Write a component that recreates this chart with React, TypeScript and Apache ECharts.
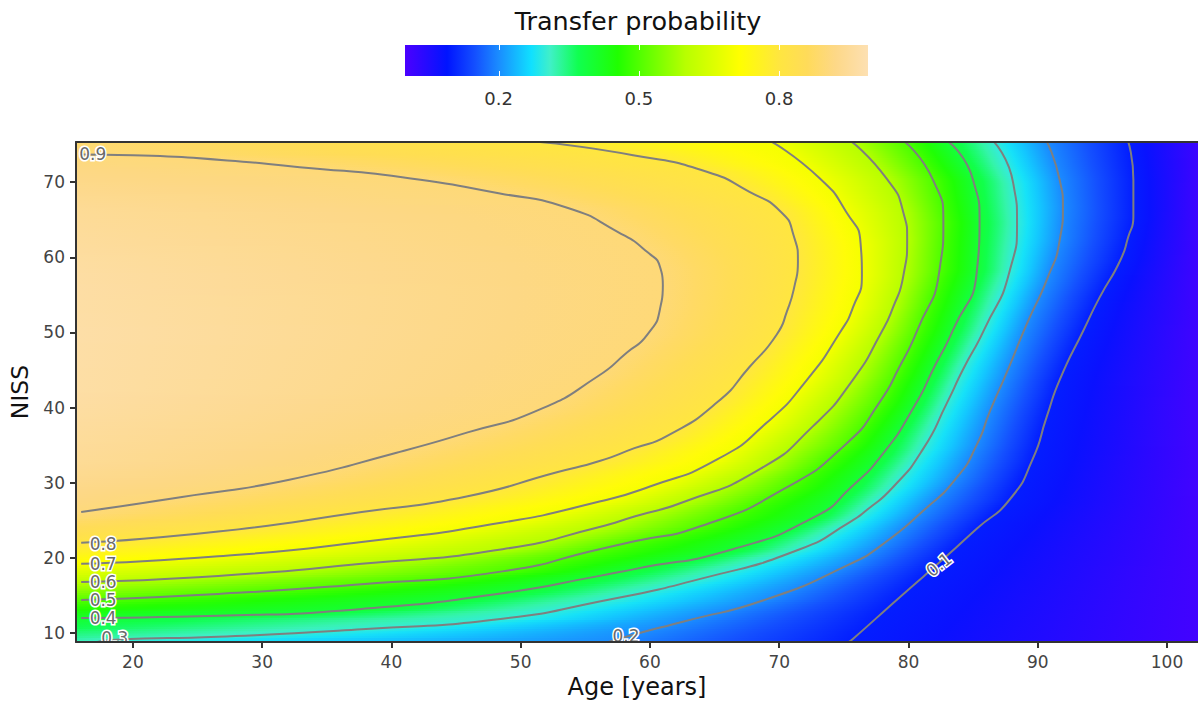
import React, { useEffect, useRef } from "react";
import * as echarts from "echarts";

const FONT = '"DejaVu Sans", Verdana, sans-serif';

// Axis ranges and ticks
const AGE_MIN = 15.6;
const AGE_MAX = 102.4;
const NISS_MIN = 8.8;
const NISS_MAX = 75.35;
const AGE_TICKS = [20, 30, 40, 50, 60, 70, 80, 90, 100];
const NISS_TICKS = [10, 20, 30, 40, 50, 60, 70];

// Colour bar
const COLORBAR_MIN = 0;
const COLORBAR_MAX = 0.99;
const COLORBAR_TICKS = [0.2, 0.5, 0.8];
const COLOR_SCALE: [number, string][] = [
  [0.0, "#4b00ff"],
  [0.09, "#0014ff"],
  [0.15, "#1450ff"],
  [0.2, "#1a8cff"],
  [0.27, "#10e0ff"],
  [0.31, "#40f0c8"],
  [0.37, "#10ff50"],
  [0.455, "#20ff00"],
  [0.5, "#50ff00"],
  [0.6, "#b8ff00"],
  [0.715, "#ffff00"],
  [0.8, "#ffe640"],
  [0.86, "#ffdb5a"],
  [0.92, "#fdd887"],
  [0.99, "#fde0b2"],
];

// Contour lines: [age, NISS]
const CONTOUR_09 = [[16.0, 73.7], [20.0, 73.6], [27.3, 72.9], [32.9, 72.0], [40.7, 70.7], [48.4, 68.5], [53.6, 66.6], [57.5, 63.4], [59.8, 60.7], [60.8, 58.6], [61.0, 56.3], [60.8, 53.3], [59.8, 49.7], [58.2, 47.3], [56.0, 44.2], [51.4, 39.7], [45.9, 36.7], [40.4, 34.0], [32.1, 30.4], [23.8, 28.1], [16.0, 26.1]];
const CONTOUR_08 = [[51.1, 75.4], [58.7, 73.6], [64.4, 71.4], [67.7, 68.7], [70.1, 66.1], [71.1, 63.0], [71.45, 59.4], [71.2, 56.3], [70.6, 52.8], [69.8, 49.7], [67.7, 45.4], [65.2, 40.7], [61.3, 36.2], [58.8, 34.6], [56.1, 32.9], [52.8, 31.4], [45.9, 28.2], [37.7, 26.1], [26.6, 23.5], [16.0, 22.0]];
const CONTOUR_07 = [[69.4, 75.4], [73.15, 70.5], [75.2, 66.0], [76.3, 61.8], [76.4, 57.7], [75.7, 53.3], [74.7, 50.0], [72.15, 43.7], [69.05, 38.0], [65.2, 33.1], [60.0, 29.5], [56.1, 27.5], [48.6, 24.7], [37.7, 22.1], [26.6, 20.2], [16.0, 19.2]];
const CONTOUR_06 = [[75.6, 75.4], [78.3, 70.5], [79.6, 66.0], [79.9, 62.5], [79.6, 57.5], [78.8, 53.3], [77.9, 50.0], [75.7, 43.7], [72.6, 37.5], [68.5, 31.8], [62.55, 27.4], [58.8, 25.5], [56.1, 24.1], [48.6, 21.15], [37.7, 19.2], [26.6, 17.6], [16.0, 16.8]];
const CONTOUR_05 = [[79.7, 75.4], [81.9, 70.3], [82.7, 64.6], [82.4, 58.3], [80.7, 50.35], [79.3, 45.4], [77.8, 40.8], [75.2, 35.2], [70.3, 29.1], [63.9, 24.2], [58.8, 22.2], [56.1, 21.15], [48.6, 18.2], [37.7, 16.5], [26.6, 15.2], [16.0, 14.4]];
const CONTOUR_04 = [[83.1, 75.4], [85.0, 70.3], [85.5, 64.6], [85.3, 58.3], [83.45, 50.35], [82.0, 45.4], [80.5, 40.3], [78.0, 33.8], [75.5, 29.3], [72.9, 25.6], [66.4, 21.15], [58.8, 18.5], [56.1, 17.6], [48.6, 15.3], [37.7, 13.2], [26.6, 12.3], [16.0, 12.0]];
const CONTOUR_03 = [[86.6, 75.4], [88.1, 69.9], [88.4, 64.6], [87.85, 58.3], [85.85, 50.35], [84.2, 45.0], [83.0, 40.7], [81.1, 34.4], [78.8, 29.4], [76.8, 26.4], [75.5, 24.8], [71.6, 21.15], [63.9, 17.2], [56.1, 14.2], [48.6, 11.9], [37.7, 10.5], [26.6, 9.5], [18.6, 9.1], [17.0, 8.7]];
const CONTOUR_02 = [[90.7, 75.4], [91.7, 70.3], [91.95, 66.7], [91.7, 62.3], [90.7, 57.0], [89.2, 51.3], [87.6, 44.65], [86.3, 39.5], [85.3, 35.1], [83.75, 30.7], [81.1, 26.2], [78.0, 21.8], [75.5, 19.2], [69.05, 14.5], [62.55, 11.5], [59.0, 9.9], [56.6, 8.7]];
const CONTOUR_01 = [[97.0, 75.4], [97.4, 70.3], [97.4, 65.4], [97.0, 62.7], [96.4, 59.65], [94.8, 54.7], [93.6, 50.5], [91.7, 43.7], [90.7, 38.8], [89.6, 33.1], [87.85, 27.8], [85.3, 23.9], [83.0, 20.3], [79.35, 14.8], [75.7, 9.2], [75.3, 8.7]];

const CONTOURS = [
  { level: 0.9, points: CONTOUR_09 },
  { level: 0.8, points: CONTOUR_08 },
  { level: 0.7, points: CONTOUR_07 },
  { level: 0.6, points: CONTOUR_06 },
  { level: 0.5, points: CONTOUR_05 },
  { level: 0.4, points: CONTOUR_04 },
  { level: 0.3, points: CONTOUR_03 },
  { level: 0.2, points: CONTOUR_02 },
  { level: 0.1, points: CONTOUR_01 },
];

// Probability read along the left (age 15.6) and right (age 102.4) edges: [NISS, p]
const LEFT_EDGE = [[8.7, 0.31], [12.0, 0.405], [14.4, 0.505], [16.8, 0.605], [19.2, 0.705], [22.0, 0.805], [26.1, 0.905], [33, 0.945], [42, 0.968], [50, 0.972], [58, 0.965], [66, 0.945], [73.7, 0.905], [75.4, 0.892]];
const RIGHT_EDGE = [[8.7, 0.01], [40, 0.012], [75.4, 0.018]];

// Contour labels: text, age, NISS, angle (deg)
const LABEL_TEXT = ["0.9", "0.8", "0.7", "0.6", "0.5", "0.4", "0.3", "0.2", "0.1"];
const LABEL_AGE = [16.9, 17.7, 17.7, 17.7, 17.7, 17.7, 18.6, 58.15, 82.36];
const LABEL_NISS = [73.7, 21.9, 19.15, 16.8, 14.4, 11.95, 9.35, 9.6, 19.1];
const LABEL_ANGLE = [0, 0, 0, 0, 0, 0, 0, 0, 38];

const RASTER_STEP = 0.3;

function hexToRgb(h: string) {
  const v = parseInt(h.slice(1), 16);
  return [(v >> 16) & 255, (v >> 8) & 255, v & 255];
}
const SCALE_RGB = COLOR_SCALE.map(([v, c]) => [v, hexToRgb(c)] as [number, number[]]);

function colorAt(v: number) {
  if (v <= SCALE_RGB[0][0]) v = SCALE_RGB[0][0];
  const last = SCALE_RGB[SCALE_RGB.length - 1];
  if (v >= last[0]) {
    const c = last[1];
    return `rgb(${c[0]},${c[1]},${c[2]})`;
  }
  for (let i = 0; i < SCALE_RGB.length - 1; i++) {
    const [v1, c1] = SCALE_RGB[i];
    const [v2, c2] = SCALE_RGB[i + 1];
    if (v >= v1 && v <= v2) {
      const t = (v - v1) / (v2 - v1);
      const c = c1.map((x, k) => Math.round(x + (c2[k] - x) * t));
      return `rgb(${c[0]},${c[1]},${c[2]})`;
    }
  }
  return "#000";
}

function profileAt(p: number[][], n: number) {
  if (n <= p[0][0]) return p[0][1];
  for (let i = 0; i < p.length - 1; i++) {
    if (n >= p[i][0] && n <= p[i + 1][0]) {
      const t = (n - p[i][0]) / (p[i + 1][0] - p[i][0]);
      return p[i][1] + (p[i + 1][1] - p[i][1]) * t;
    }
  }
  return p[p.length - 1][1];
}

function crossAge(pts: number[][], n: number): number | null {
  for (let i = 0; i < pts.length - 1; i++) {
    const [a1, n1] = pts[i];
    const [a2, n2] = pts[i + 1];
    if ((n <= n1 && n >= n2) || (n >= n1 && n <= n2)) {
      if (n1 === n2) return a1;
      return a1 + ((n - n1) / (n2 - n1)) * (a2 - a1);
    }
  }
  return null;
}

function stripStops(n: number) {
  const pts: [number, number][] = [[AGE_MIN, profileAt(LEFT_EDGE, n)]];
  CONTOURS.forEach((c) => {
    const a = crossAge(c.points, n);
    if (a !== null) pts.push([Math.max(AGE_MIN, Math.min(AGE_MAX, a)), c.level]);
  });
  pts.push([AGE_MAX, profileAt(RIGHT_EDGE, n)]);
  pts.sort((p, q) => p[0] - q[0]);
  const span = AGE_MAX - AGE_MIN;
  const stops: { offset: number; color: string }[] = [];
  for (let i = 0; i < pts.length; i++) {
    const [a1, v1] = pts[i];
    if (i < pts.length - 1) {
      const [a2, v2] = pts[i + 1];
      for (let k = 0; k < 4; k++) {
        const t = k / 4;
        stops.push({ offset: (a1 + (a2 - a1) * t - AGE_MIN) / span, color: colorAt(v1 + (v2 - v1) * t) });
      }
    } else {
      stops.push({ offset: 1, color: colorAt(v1) });
    }
  }
  return stops;
}

function buildOption() {
  const rows: number[][] = [];
  for (let n = NISS_MIN - RASTER_STEP; n < NISS_MAX + RASTER_STEP; n += RASTER_STEP) {
    rows.push([AGE_MIN, n, n + RASTER_STEP]);
  }

  const axisLineStyle = { color: "#333", width: 2 };

  const barX = 405;
  const barW = 463;
  const barY = 45;
  const barH = 31;
  const toBarX = (v: number) => barX + ((v - COLORBAR_MIN) / (COLORBAR_MAX - COLORBAR_MIN)) * barW;

  const graphic: any[] = [
    {
      type: "text",
      x: 638,
      y: 21,
      style: { text: "Transfer probability", font: `25.5px ${FONT}`, fill: "#111", align: "center", verticalAlign: "middle" },
    },
    {
      type: "rect",
      shape: { x: barX, y: barY, width: barW, height: barH },
      style: {
        fill: {
          type: "linear", x: 0, y: 0, x2: 1, y2: 0,
          colorStops: COLOR_SCALE.map(([v, c]) => ({ offset: Math.min(1, (v - COLORBAR_MIN) / (COLORBAR_MAX - COLORBAR_MIN)), color: c })),
        },
      },
    },
  ];
  COLORBAR_TICKS.forEach((v) => {
    const x = Math.round(toBarX(v)) + 0.5;
    graphic.push({ type: "line", shape: { x1: x, y1: barY, x2: x, y2: barY + 5 }, style: { stroke: "#fff", lineWidth: 1 } });
    graphic.push({ type: "line", shape: { x1: x, y1: barY + barH - 5, x2: x, y2: barY + barH }, style: { stroke: "#fff", lineWidth: 1 } });
    graphic.push({
      type: "text", x: toBarX(v), y: 98,
      style: { text: v.toFixed(1), font: `18px ${FONT}`, fill: "#333", align: "center", verticalAlign: "middle" },
    });
  });

  const series: any[] = [
    {
      type: "custom",
      name: "surface",
      coordinateSystem: "cartesian2d",
      clip: true,
      silent: true,
      z: 1,
      encode: { x: 0, y: 1 },
      data: rows,
      renderItem: (_p: any, api: any) => {
        const n0 = api.value(1) as number;
        const n1 = api.value(2) as number;
        const tl = api.coord([AGE_MIN, n1]);
        const br = api.coord([AGE_MAX, n0]);
        return {
          type: "rect",
          shape: { x: tl[0], y: tl[1] - 0.6, width: br[0] - tl[0], height: br[1] - tl[1] + 1.2 },
          style: { fill: { type: "linear", x: 0, y: 0, x2: 1, y2: 0, global: false, colorStops: stripStops((n0 + n1) / 2) } },
          silent: true,
        };
      },
    },
  ];

  CONTOURS.forEach((c) => {
    series.push({
      type: "line",
      name: `p=${c.level}`,
      data: c.points,
      smooth: 0.6,
      symbol: "none",
      showSymbol: false,
      clip: true,
      silent: true,
      z: 3,
      lineStyle: { color: "#7f7f7f", width: 2 },
    });
  });

  series.push({
    type: "custom",
    name: "labels",
    coordinateSystem: "cartesian2d",
    clip: true,
    silent: true,
    z: 5,
    encode: { x: 0, y: 1 },
    data: LABEL_TEXT.map((_, i) => [LABEL_AGE[i], LABEL_NISS[i], LABEL_ANGLE[i]]),
    renderItem: (params: any, api: any) => {
      const p = api.coord([api.value(0), api.value(1)]);
      const ang = api.value(2) as number;
      return {
        type: "text",
        x: p[0],
        y: p[1],
        rotation: (ang * Math.PI) / 180,
        style: {
          text: LABEL_TEXT[params.dataIndex],
          font: `17px ${FONT}`,
          fill: "#696969",
          stroke: "#ffffff",
          lineWidth: 3,
          align: "center",
          verticalAlign: "middle",
        },
      };
    },
  });

  return {
    animation: false,
    backgroundColor: "#ffffff",
    textStyle: { fontFamily: FONT },
    grid: { left: 76, right: 0, top: 142, bottom: 61, containLabel: false },
    xAxis: [
      {
        type: "value",
        min: AGE_MIN,
        max: AGE_MAX,
        position: "bottom",
        z: 10,
        name: "Age [years]",
        nameLocation: "middle",
        nameGap: 33,
        nameTextStyle: { fontSize: 24, color: "#111", fontFamily: FONT },
        axisLine: { show: true, onZero: false, lineStyle: axisLineStyle },
        axisTick: { show: true, customValues: AGE_TICKS, length: 6, lineStyle: axisLineStyle },
        axisLabel: { customValues: AGE_TICKS, color: "#444", fontSize: 17, margin: 11, fontFamily: FONT },
        splitLine: { show: false },
      },
      {
        type: "value",
        min: AGE_MIN,
        max: AGE_MAX,
        position: "top",
        z: 10,
        axisLine: { show: true, onZero: false, lineStyle: axisLineStyle },
        axisTick: { show: false },
        axisLabel: { show: false },
        splitLine: { show: false },
      },
    ],
    yAxis: {
      type: "value",
      min: NISS_MIN,
      max: NISS_MAX,
      z: 10,
      name: "NISS",
      nameLocation: "middle",
      nameGap: 42,
      nameRotate: 90,
      nameTextStyle: { fontSize: 23.5, color: "#111", fontFamily: FONT },
      axisLine: { show: true, onZero: false, lineStyle: axisLineStyle },
      axisTick: { show: true, customValues: NISS_TICKS, length: 6, lineStyle: axisLineStyle },
      axisLabel: { customValues: NISS_TICKS, color: "#444", fontSize: 17, margin: 11, fontFamily: FONT },
      splitLine: { show: false },
    },
    graphic,
    series,
  };
}

export default function App() {
  const ref = useRef<HTMLDivElement>(null);
  useEffect(() => {
    if (!ref.current) return;
    const chart = echarts.init(ref.current, null, { renderer: "svg" });
    chart.setOption(buildOption() as any);
    return () => chart.dispose();
  }, []);
  return (
    <div
      ref={ref}
      style={{ position: "absolute", left: 0, top: 0, width: 1198, height: 704, background: "#fff" }}
    />
  );
}
